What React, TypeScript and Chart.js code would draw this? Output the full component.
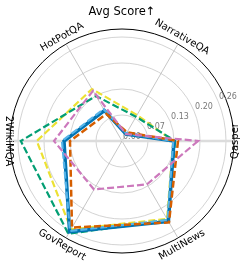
import React, { useEffect, useRef } from 'react';
import { Chart, registerables } from 'chart.js';

Chart.register(...registerables);

// Categories in clockwise order starting at the right (east)
const categories = ['Qasper', 'MultiNews', 'GovReport', '2WikiMQA', 'HotPotQA', 'NarrativeQA'];

const seriesBlue = [0.13, 0.232, 0.262, 0.145, 0.088, 0.02];
const seriesSky = [0.128, 0.228, 0.26, 0.15, 0.092, 0.022];
const seriesOrange = [0.14, 0.235, 0.25, 0.13, 0.078, 0.025];
const seriesGreen = [0.133, 0.228, 0.268, 0.253, 0.13, 0.07];
const seriesYellow = [0.128, 0.225, 0.255, 0.213, 0.15, 0.075];
const seriesPink = [0.19, 0.125, 0.14, 0.17, 0.145, 0.02];

const tickValues = [0, 0.065, 0.13, 0.195, 0.26];
const tickLabels = ['0.00', '0.07', '0.13', '0.20', '0.26'];
const axisMax = 0.28;
const titleText = 'Avg Score↑';

const FONT = "'DejaVu Sans', sans-serif";

const decorPlugin = {
  id: 'decor',
  beforeDatasetsDraw(chart: any) {
    const scale = chart.scales.r;
    const ctx = chart.ctx;
    ctx.save();
    ctx.font = `8px ${FONT}`;
    ctx.fillStyle = '#7a7a7a';
    ctx.textAlign = 'left';
    ctx.textBaseline = 'bottom';
    const a = (22.5 * Math.PI) / 180;
    tickValues.forEach((v, i) => {
      const r = scale.getDistanceFromCenterForValue(v);
      const x = scale.xCenter + r * Math.cos(a);
      const y = scale.yCenter - r * Math.sin(a);
      ctx.fillText(tickLabels[i], x + 1, y);
    });
    ctx.restore();
  },
  afterDraw(chart: any) {
    const scale = chart.scales.r;
    const ctx = chart.ctx;
    ctx.save();
    ctx.fillStyle = '#000';
    ctx.font = `10px ${FONT}`;
    ctx.textAlign = 'center';
    ctx.textBaseline = 'middle';
    categories.forEach((label, i) => {
      const deg = (i * 360) / categories.length; // clockwise from east
      const rad = (deg * Math.PI) / 180;
      const horiz = deg % 180 === 0;
      const r = scale.drawingArea + (horiz ? 1 : 8);
      const x = scale.xCenter + r * Math.cos(rad);
      const y = scale.yCenter + r * Math.sin(rad);
      const rot = deg > 180 && deg < 360 ? deg + 90 : deg - 90;
      ctx.save();
      ctx.translate(x, y);
      ctx.rotate((rot * Math.PI) / 180);
      ctx.fillText(label, 0, 0);
      ctx.restore();
    });
    ctx.font = `11.5px ${FONT}`;
    ctx.textBaseline = 'middle';
    ctx.fillText(titleText, 122, 12);
    ctx.restore();
  },
};

function ds(label: string, data: number[], color: string, width: number, dash: number[]) {
  return {
    label,
    data,
    borderColor: color,
    backgroundColor: 'transparent',
    borderWidth: width,
    borderDash: dash,
    borderJoinStyle: 'miter' as const,
    fill: false,
    pointRadius: 0,
    tension: 0,
  };
}

export default function App() {
  const ref = useRef<HTMLCanvasElement | null>(null);
  useEffect(() => {
    if (!ref.current) return;
    const chart = new Chart(ref.current, {
      type: 'radar',
      data: {
        labels: categories,
        datasets: [
          ds('pink', seriesPink, '#CC78BC', 2.2, [7, 3]),
          ds('orange', seriesOrange, '#D55E00', 2.5, [7, 3]),
          ds('sky', seriesSky, '#56B4E9', 2.2, [7, 3]),
          ds('blue', seriesBlue, '#0173B2', 3.5, []),
          ds('green', seriesGreen, '#029E73', 2.2, [7, 3]),
          ds('yellow', seriesYellow, '#ECE133', 2.2, [7, 3]),
        ],
      },
      options: {
        responsive: false,
        animation: false,
        devicePixelRatio: 1,
        layout: { padding: { left: 10, right: 10, top: 29, bottom: 15 } },
        plugins: { legend: { display: false }, tooltip: { enabled: false }, title: { display: false } },
        scales: {
          r: {
            min: 0,
            max: axisMax,
            startAngle: 90,
            afterBuildTicks: (scale: any) => {
              scale.ticks = [...tickValues, axisMax].map((v) => ({ value: v }));
            },
            ticks: { display: false },
            pointLabels: { display: false },
            grid: {
              circular: true,
              color: (c: any) => (c.tick && c.tick.value === axisMax ? '#000000' : '#c8c8c8'),
              lineWidth: (c: any) => (c.tick && c.tick.value === axisMax ? 1 : 0.8),
            },
            angleLines: {
              color: (c: any) => (c.index % 3 === 0 ? '#dcdcdc' : '#b8b8b8'),
              lineWidth: (c: any) => (c.index % 3 === 0 ? 2.5 : 0.8),
            },
          },
        },
      } as any,
      plugins: [decorPlugin],
    });
    return () => chart.destroy();
  }, []);
  return (
    <div style={{ position: 'fixed', left: 0, top: 0 }}>
      <canvas ref={ref} width={244} height={268} style={{ display: 'block', width: 244, height: 268 }} />
    </div>
  );
}
